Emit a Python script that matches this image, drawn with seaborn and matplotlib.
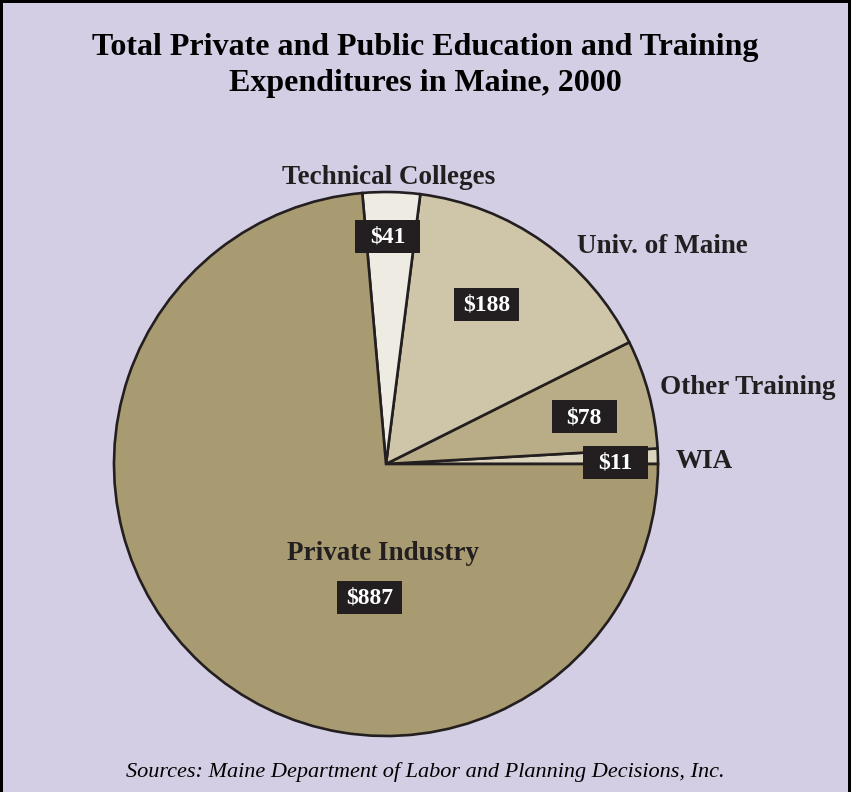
import matplotlib
matplotlib.use("Agg")
import matplotlib.pyplot as plt
from matplotlib.patches import Rectangle
import seaborn as sns

# Expenditures in Maine, 2000 ($ millions), counter-clockwise from 3 o'clock
categories = ["WIA", "Other Training", "Univ. of Maine", "Technical Colleges", "Private Industry"]
values = [11, 78, 188, 41, 887]
value_labels = ["$11", "$78", "$188", "$41", "$887"]
colors = ["#dbd3bb", "#b9ad88", "#cfc6a9", "#eeebe3", "#a99b71"]

# label anchors in pie units (radius = 1)
name_xy = [(1.17, 0.01), (1.33, 0.28), (1.015, 0.80), (0.01, 1.055), (-0.01, -0.33)]
value_xy = [(0.842, 0.007), (0.728, 0.173), (0.371, 0.588), (0.007, 0.838), (-0.059, -0.489)]

sns.set_style("white")
plt.rcParams["font.family"] = ["Liberation Serif", "DejaVu Serif"]

bg = "#d3cee3"
edge = "#231f20"

fig = plt.figure(figsize=(8.51, 7.92), dpi=100, facecolor=bg)
ax = fig.add_axes([114 / 851, 56 / 792, 544 / 851, 544 / 792])
ax.set_facecolor(bg)

wedges, _ = ax.pie(values, colors=colors, startangle=0, counterclock=True,
                   radius=1.0,
                   wedgeprops=dict(edgecolor=edge, linewidth=1.9))
ax.set_xlim(-1, 1)
ax.set_ylim(-1, 1)
ax.set_aspect("auto")
ax.axis("off")

box_w, box_h = 65 / 272, 33 / 272
for name, vlab, (nx, ny), (cx, cy) in zip(categories, value_labels, name_xy, value_xy):
    ax.text(nx, ny, name, ha="center", va="center",
            fontsize=19.5, fontweight="bold", color=edge, clip_on=False)
    ax.add_patch(Rectangle((cx - box_w / 2, cy - box_h / 2), box_w, box_h,
                           facecolor=edge, edgecolor="none", zorder=5, clip_on=False))
    ax.text(cx, cy - 0.005, vlab, ha="center", va="center", fontsize=17,
            fontweight="bold", color="white", zorder=6)

fig.text(0.5, 1 - 47 / 792, "Total Private and Public Education and Training",
         ha="center", va="center", fontsize=23, fontweight="bold", color="black")
fig.text(0.5, 1 - 83 / 792, "Expenditures in Maine, 2000",
         ha="center", va="center", fontsize=23, fontweight="bold", color="black")
fig.text(0.5, 1 - 772 / 792, "Sources: Maine Department of Labor and Planning Decisions, Inc.",
         ha="center", va="center", fontsize=16, fontstyle="italic", color="black")

# dark frame on top, left and right
for x0, y0, fw, fh in [(0, 0, 3 / 851, 1), (1 - 3 / 851, 0, 3 / 851, 1), (0, 1 - 3 / 792, 1, 3 / 792)]:
    fig.add_artist(Rectangle((x0, y0), fw, fh, transform=fig.transFigure,
                             facecolor="black", edgecolor="none"))

fig.savefig("out.png", dpi=100, facecolor=bg)
